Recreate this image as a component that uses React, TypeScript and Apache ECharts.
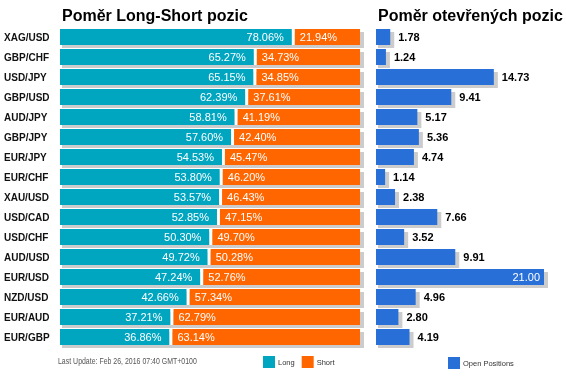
import React, { useEffect, useRef } from "react";
import * as echarts from "echarts";

const categories = ["XAG/USD", "GBP/CHF", "USD/JPY", "GBP/USD", "AUD/JPY", "GBP/JPY", "EUR/JPY", "EUR/CHF", "XAU/USD", "USD/CAD", "USD/CHF", "AUD/USD", "EUR/USD", "NZD/USD", "EUR/AUD", "EUR/GBP"];
const longPct = [78.06, 65.27, 65.15, 62.39, 58.81, 57.6, 54.53, 53.8, 53.57, 52.85, 50.3, 49.72, 47.24, 42.66, 37.21, 36.86];
const shortPct = [21.94, 34.73, 34.85, 37.61, 41.19, 42.4, 45.47, 46.2, 46.43, 47.15, 49.7, 50.28, 52.76, 57.34, 62.79, 63.14];
const openPositions = [1.78, 1.24, 14.73, 9.41, 5.17, 5.36, 4.74, 1.14, 2.38, 7.66, 3.52, 9.91, 21.0, 4.96, 2.8, 4.19];
const titleLeft = "Poměr Long-Short pozic";
const titleRight = "Poměr otevřených pozic";
const footerText = "Last Update: Feb 26, 2016 07:40 GMT+0100";

const GAP = 1;
const FONT = "'Liberation Sans', Arial, sans-serif";
const TEAL = "#00a5c0";
const ORANGE = "#ff6600";
const BLUE = "#2870d8";
const SHADOW = "#cccccc";
const BAR_H = 16;

function shadowRender(params: any, api: any) {
  const i = api.value(1);
  const v = api.value(0);
  const p0 = api.coord([0, i]);
  const p1 = api.coord([v, i]);
  return {
    type: "rect",
    shape: { x: p0[0] + 2, y: p0[1] - BAR_H / 2 + 3, width: p1[0] - p0[0] + 2, height: BAR_H },
    style: { fill: SHADOW },
  };
}

export default function App() {
  const ref = useRef<HTMLDivElement>(null);
  useEffect(() => {
    if (!ref.current) return;
    const chart = echarts.init(ref.current, undefined, { renderer: "svg" });
    const maxOpen = Math.max(...openPositions);
    const totals = longPct.map((l, i) => l + GAP + shortPct[i]);
    chart.setOption({
      animation: false,
      textStyle: { fontFamily: FONT },
      title: [
        { text: titleLeft, left: 62, top: 7, padding: 0, textStyle: { fontSize: 16, fontWeight: "bold", color: "#000", fontFamily: FONT } },
        { text: titleRight, left: 378, top: 7, padding: 0, textStyle: { fontSize: 16, fontWeight: "bold", color: "#000", fontFamily: FONT } },
      ],
      legend: [
        {
          data: ["Long", "Short"],
          left: 263,
          top: 356,
          padding: 0,
          icon: "rect",
          itemWidth: 12,
          itemHeight: 12,
          itemGap: 7,
          textStyle: { fontSize: 7.5, color: "#333", fontFamily: FONT, padding: [0, 0, 0, -2] },
          selectedMode: false,
        },
        {
          data: ["Open Positions"],
          left: 448,
          top: 357,
          padding: 0,
          icon: "rect",
          itemWidth: 12,
          itemHeight: 12,
          textStyle: { fontSize: 7.5, color: "#333", fontFamily: FONT, padding: [0, 0, 0, -2] },
          selectedMode: false,
        },
      ],
      graphic: [
        {
          type: "text",
          x: 58,
          y: 357,
          scaleX: 0.82,
          style: { text: footerText, fontSize: 8.5, fill: "#555", fontFamily: FONT },
        },
      ],
      grid: [
        { left: 60, top: 27, width: 300, height: 320 },
        { left: 376, top: 27, width: 168, height: 320 },
      ],
      xAxis: [
        { type: "value", gridIndex: 0, min: 0, max: 100 + GAP, show: false },
        { type: "value", gridIndex: 1, min: 0, max: maxOpen, show: false },
      ],
      yAxis: [
        {
          type: "category",
          gridIndex: 0,
          inverse: true,
          data: categories,
          axisLine: { show: false },
          axisTick: { show: false },
          axisLabel: { align: "left", margin: 56, fontSize: 10, fontWeight: "bold", color: "#111", fontFamily: FONT },
        },
        { type: "category", gridIndex: 1, inverse: true, data: categories, show: false },
      ],
      series: [
        {
          type: "custom",
          name: "shadowL",
          xAxisIndex: 0,
          yAxisIndex: 0,
          z: 1,
          silent: true,
          renderItem: shadowRender,
          encode: { x: 0, y: 1 },
          data: totals.map((t, i) => [t, i]),
        },
        {
          type: "bar",
          name: "Long",
          xAxisIndex: 0,
          yAxisIndex: 0,
          stack: "ls",
          barWidth: BAR_H,
          z: 2,
          itemStyle: { color: TEAL },
          label: {
            show: true,
            position: "insideRight",
            distance: 8,
            color: "#fff",
            fontSize: 11,
            fontFamily: FONT,
            formatter: (p: any) => p.value.toFixed(2) + "%",
          },
          data: longPct,
        },
        {
          type: "bar",
          name: "gap",
          xAxisIndex: 0,
          yAxisIndex: 0,
          stack: "ls",
          barWidth: BAR_H,
          z: 2,
          silent: true,
          itemStyle: { color: "#ffffff" },
          data: longPct.map(() => GAP),
        },
        {
          type: "bar",
          name: "Short",
          xAxisIndex: 0,
          yAxisIndex: 0,
          stack: "ls",
          barWidth: BAR_H,
          z: 2,
          itemStyle: { color: ORANGE },
          label: {
            show: true,
            position: "insideLeft",
            distance: 5,
            color: "#fff",
            fontSize: 11,
            fontFamily: FONT,
            formatter: (p: any) => p.value.toFixed(2) + "%",
          },
          data: shortPct,
        },
        {
          type: "custom",
          name: "shadowR",
          xAxisIndex: 1,
          yAxisIndex: 1,
          z: 1,
          silent: true,
          renderItem: shadowRender,
          encode: { x: 0, y: 1 },
          data: openPositions.map((v, i) => [v, i]),
        },
        {
          type: "bar",
          name: "Open Positions",
          xAxisIndex: 1,
          yAxisIndex: 1,
          barWidth: BAR_H,
          z: 2,
          itemStyle: { color: BLUE },
          label: {
            show: true,
            position: "right",
            distance: 8,
            color: "#000",
            fontSize: 11,
            fontWeight: "bold",
            fontFamily: FONT,
            formatter: (p: any) => Number(p.value).toFixed(2),
          },
          data: openPositions.map((v) =>
            v === maxOpen
              ? { value: v, label: { position: "insideRight", distance: 4, color: "#fff", fontWeight: "normal" } }
              : v
          ),
        },
      ],
    });
    return () => chart.dispose();
  }, []);
  return <div ref={ref} style={{ position: "fixed", left: 0, top: 0, width: 566, height: 377 }} />;
}
